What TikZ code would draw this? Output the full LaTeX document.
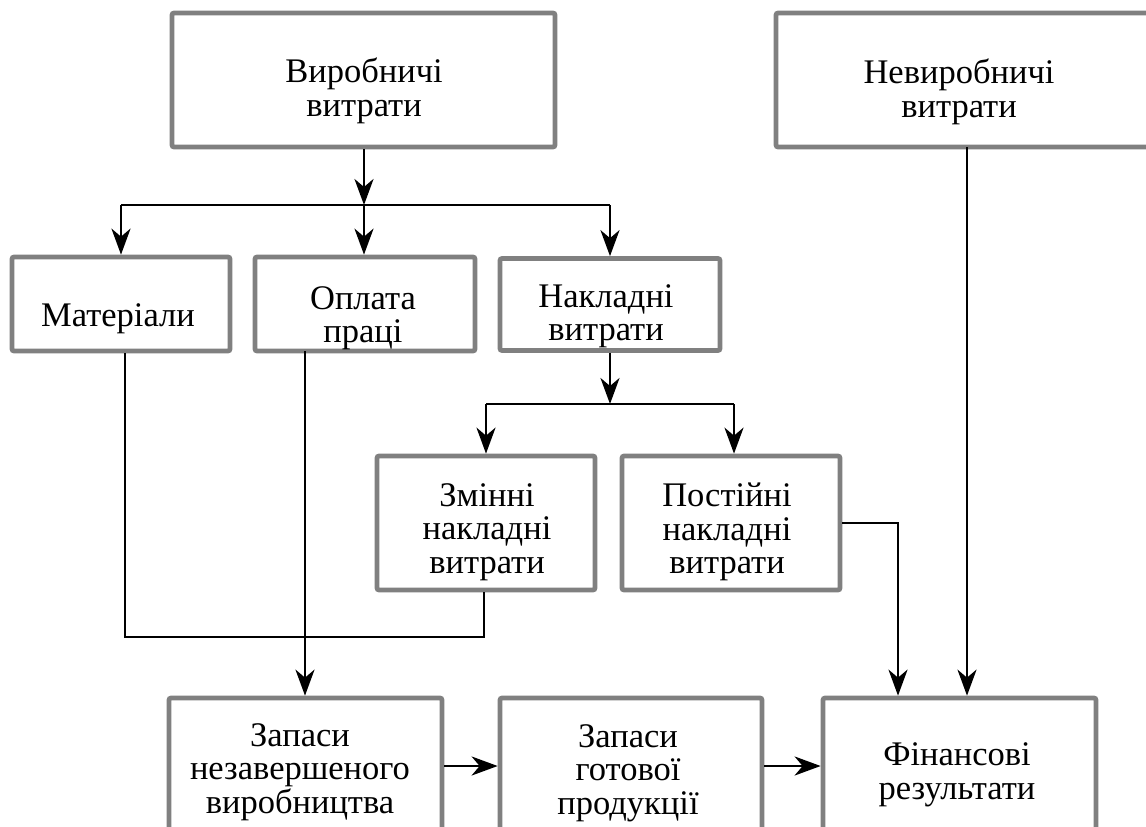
\documentclass[tikz,border=0pt]{standalone}
\usepackage{fontspec}
\setmainfont{Liberation Serif}
\usetikzlibrary{arrows.meta,calc}
\definecolor{boxgray}{RGB}{128,128,128}
\tikzset{
  box/.style={draw=boxgray, line width=4.7pt, rounded corners=2pt, rectangle, inner sep=0pt, fill=white},
  lbl/.style={align=center, inner sep=0pt, font=\fontsize{34.5}{33.5}\selectfont},
  conn/.style={line width=2.8pt, black},
  arr/.style={conn, -{Stealth[length=26pt,width=19pt,inset=8pt]}}
}
\begin{document}
\begin{tikzpicture}[x=1pt,y=-1pt]
\useasboundingbox (0,0) rectangle (1146,827);
\fill[white] (0,0) rectangle (1146,827);
\clip (0,0) rectangle (1146,827);
% boxes
\node[box, minimum width=383, minimum height=134] (b1) at (363.5,80) {};
\node[box, minimum width=374, minimum height=134] (b2) at (963,80) {};
\node[box, minimum width=218, minimum height=94] (mat) at (121,304) {};
\node[box, minimum width=220, minimum height=94] (opl) at (365,304) {};
\node[box, minimum width=220, minimum height=92] (nak) at (610,304.5) {};
\node[box, minimum width=218, minimum height=134] (zmi) at (486,523) {};
\node[box, minimum width=218, minimum height=134] (pos) at (731,523) {};
\node[box, minimum width=273, minimum height=152] (zap1) at (305.5,774) {};
\node[box, minimum width=262, minimum height=152] (zap2) at (631,774) {};
\node[box, minimum width=273, minimum height=152] (fin) at (959.5,774) {};
% labels
\node[lbl] (t1) at (364,91) {Виробничі\\витрати};
\node[lbl] (t2) at (959,92) {Невиробничі\\витрати};
\node[lbl] (t3) at (118,319) {Матеріали};
\node[lbl] (t4) at (363,318) {Оплата\\праці};
\node[lbl] (t5) at (606,316) {Накладні\\витрати};
\node[lbl] (t6) at (487,532) {Змінні\\накладні\\витрати};
\node[lbl] (t7) at (727,532) {Постійні\\накладні\\витрати};
\node[lbl] (t8) at (300,772) {Запаси\\незавершеного\\виробництва};
\node[lbl] (t9) at (628,773) {Запаси\\готової\\продукції};
\node[lbl] (t10) at (957,775) {Фінансові\\результати};
% junction coordinates
\coordinate (j1) at (364,205);
\coordinate (jl) at (121,205);
\coordinate (jr) at (610,205);
\coordinate (j2) at (610,404);
\coordinate (j2l) at (486,404);
\coordinate (j2r) at (734,404);
\coordinate (m1) at (125,637);
\coordinate (m2) at (484,637);
\coordinate (o1) at (305,351);
\coordinate (p1) at (898,523);
\coordinate (n1) at (967,147);
% connectors
\draw[arr] (b1.south -| j1) -- (j1);
\draw[conn] (jl) -- (jr);
\draw[arr] (jl) -- (jl |- mat.north);
\draw[arr] (j1) -- (j1 |- opl.north);
\draw[arr] (jr) -- (jr |- nak.north);
\draw[arr] (nak.south -| j2) -- (j2);
\draw[conn] (j2l) -- (j2r);
\draw[arr] (j2l) -- (j2l |- zmi.north);
\draw[arr] (j2r) -- (j2r |- pos.north);
\draw[conn] (mat.south -| m1) -- (m1) -- (m2) -- (m2 |- zmi.south);
\draw[arr] (o1) -- (o1 |- zap1.north);
\draw[arr] (pos.east) -- (p1) -- (p1 |- fin.north);
\draw[arr] (n1) -- (n1 |- fin.north);
\draw[arr] ($(zap1.east)+(0,-8)$) -- ($(zap2.west)+(0,-8)$);
\draw[arr] ($(zap2.east)+(0,-8)$) -- ($(fin.west)+(0,-8)$);
\end{tikzpicture}
\end{document}
